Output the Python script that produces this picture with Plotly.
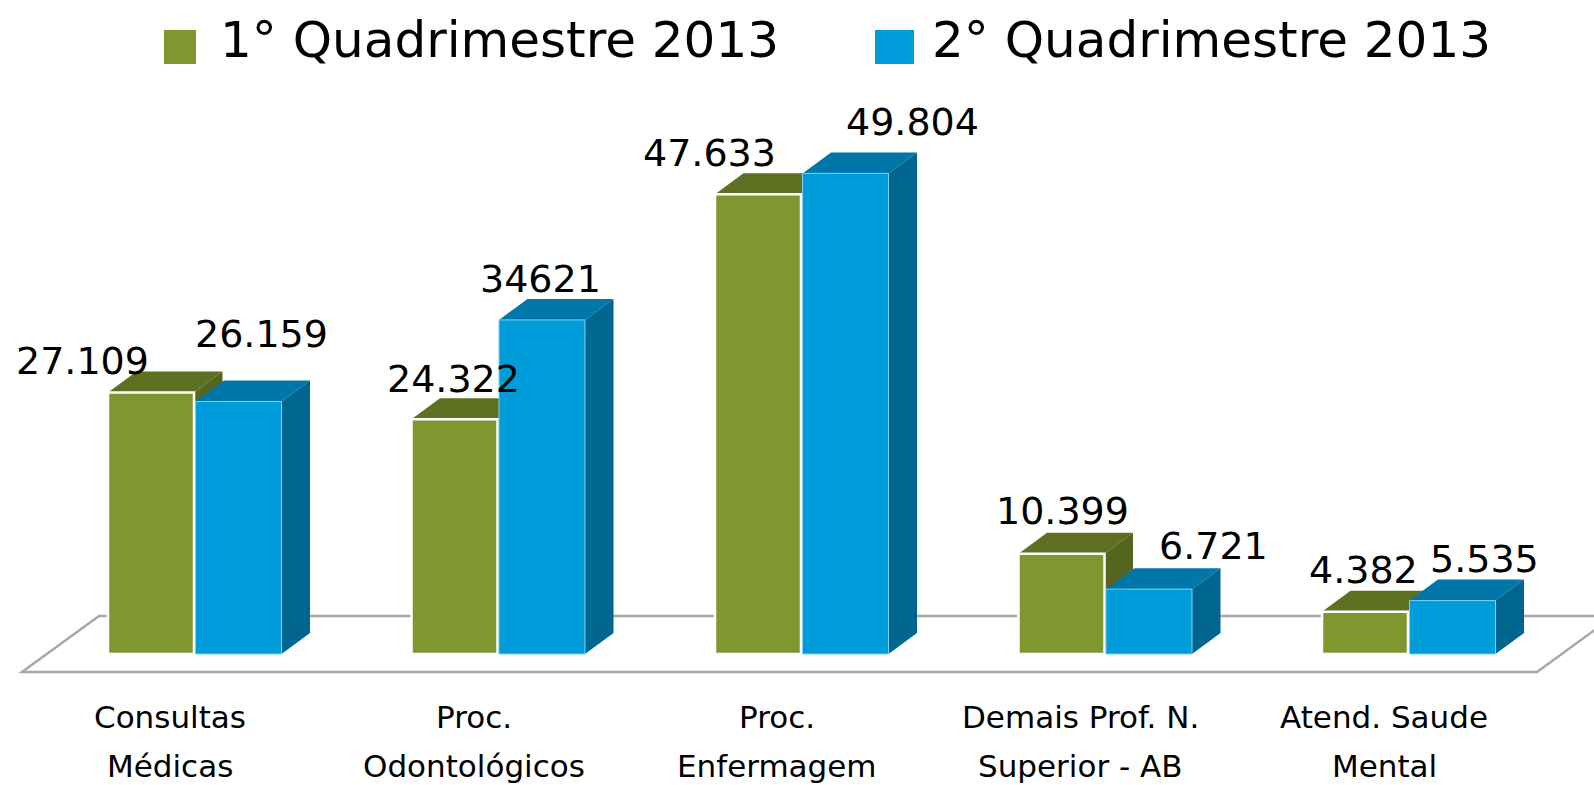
import plotly.graph_objects as go

categories_line1 = ["Consultas", "Proc.", "Proc.", "Demais Prof. N.", "Atend. Saude"]
categories_line2 = ["Médicas", "Odontológicos", "Enfermagem", "Superior - AB", "Mental"]
series1_name = "1° Quadrimestre 2013"
series2_name = "2° Quadrimestre 2013"
series1_values = [27109, 24322, 47633, 10399, 4382]
series2_values = [26159, 34621, 49804, 6721, 5535]
series1_labels = ["27.109", "24.322", "47.633", "10.399", "4.382"]
series2_labels = ["26.159", "34621", "49.804", "6.721", "5.535"]

# label placement relative to the bar top centre (pixels)
series1_shift = [(-69, 31), (-1, 40), (-49, 41), (1, 43), (-2, 42)]
series2_shift = [(24, 68), (0, 41), (68, 51), (66, 43), (33, 42)]

W, H = 1594, 785
PX_PER_GROUP = 303.5
PX_PER_UNIT = 0.00965
ORIGIN_X = 194
BASE_Y = 654
ux = lambda px: px / PX_PER_GROUP
uy = lambda px: px / PX_PER_UNIT

BAR_W = ux(86)
GAP = ux(1.5)
DX, DY = ux(28.5), uy(21)

GREEN, GREEN_TOP, GREEN_SIDE = "#80962F", "#5F7022", "#566620"
BLUE, BLUE_TOP, BLUE_SIDE = "#009CDA", "#0077A8", "#006690"
FLOOR = "#A8A8A8"
TEXT = "#000000"
FONT = "DejaVu Sans"

xs = list(range(len(series1_values)))
fig = go.Figure()
fig.add_bar(x=xs, y=series1_values, name=series1_name, width=BAR_W, offset=-BAR_W,
            marker=dict(color=GREEN, line=dict(color="white", width=2.5)), showlegend=False)
fig.add_bar(x=xs, y=series2_values, name=series2_name, width=BAR_W, offset=GAP,
            marker=dict(color=BLUE, line=dict(color="#7FD0EE", width=1)), showlegend=False)


def poly(points, color):
    path = "M" + "L".join(f"{x},{y}" for x, y in points) + "Z"
    return dict(type="path", path=path, xref="x", yref="y", fillcolor=color,
                line=dict(width=0), layer="below")


shapes = []
# floor outline
fl, fr = ux(22 - ORIGIN_X), ux(1537 - ORIGIN_X)
y_front, y_back = uy(654 - 672), uy(654 - 616)
shapes.append(dict(type="path", xref="x", yref="y", layer="below",
                   path=f"M{fl},{y_front}L{fr},{y_front}L{fr + ux(77)},{y_back}L{fl + ux(77)},{y_back}Z",
                   line=dict(color=FLOOR, width=2.5), fillcolor="white"))


def depth_faces(x0, v, top, side):
    x1 = x0 + BAR_W
    return [
        poly([(x0, v), (x1, v), (x1 + DX, v + DY), (x0 + DX, v + DY)], top),
        poly([(x1, 0), (x1 + DX, DY), (x1 + DX, v + DY), (x1, v)], side),
    ]


for i, (a, b) in enumerate(zip(series1_values, series2_values)):
    shapes += depth_faces(i - BAR_W, a, GREEN_TOP, GREEN_SIDE)
    shapes += depth_faces(i + GAP, b, BLUE_TOP, BLUE_SIDE)

# legend swatches
for x0, x1, c in [(164, 196, GREEN), (875, 914, BLUE)]:
    shapes.append(dict(type="rect", xref="paper", yref="paper", x0=x0 / W, x1=x1 / W,
                       y0=1 - 64 / H, y1=1 - 30 / H, fillcolor=c, line=dict(width=0)))

ann = []
for name, left in [(series1_name, 218), (series2_name, 930)]:
    ann.append(dict(text=name, xref="paper", yref="paper", x=left / W, y=1 - 40 / H,
                    xanchor="left", yanchor="middle", showarrow=False,
                    font=dict(family=FONT, size=50, color=TEXT)))

for vals, labs, shifts, off in [(series1_values, series1_labels, series1_shift, -BAR_W / 2),
                                (series2_values, series2_labels, series2_shift, BAR_W / 2)]:
    for i, (v, t, (sx, sy)) in enumerate(zip(vals, labs, shifts)):
        ann.append(dict(text=t, x=i + off, y=v, xref="x", yref="y", xshift=sx, yshift=sy,
                        xanchor="center", yanchor="middle", showarrow=False,
                        font=dict(family=FONT, size=38, color=TEXT)))

LABEL_OFF = ux(-24)
for i, (l1, l2) in enumerate(zip(categories_line1, categories_line2)):
    for t, py in [(l1, 717), (l2, 766)]:
        ann.append(dict(text=t, x=i + LABEL_OFF, xref="x", y=1 - py / H, yref="paper",
                        xanchor="center", yanchor="middle", showarrow=False,
                        font=dict(family=FONT, size=31, color=TEXT)))

fig.update_layout(
    width=W, height=H, margin=dict(l=0, r=0, t=0, b=0),
    paper_bgcolor="white", plot_bgcolor="white", barmode="overlay",
    xaxis=dict(range=[ux(-ORIGIN_X), ux(W - ORIGIN_X)], visible=False, fixedrange=True),
    yaxis=dict(range=[uy(BASE_Y - H), uy(BASE_Y)], visible=False, fixedrange=True),
    shapes=shapes, annotations=ann,
)
fig.write_html("out.html", config={"displayModeBar": False},
               post_script="document.body.style.margin='0';document.body.style.overflow='hidden';")
